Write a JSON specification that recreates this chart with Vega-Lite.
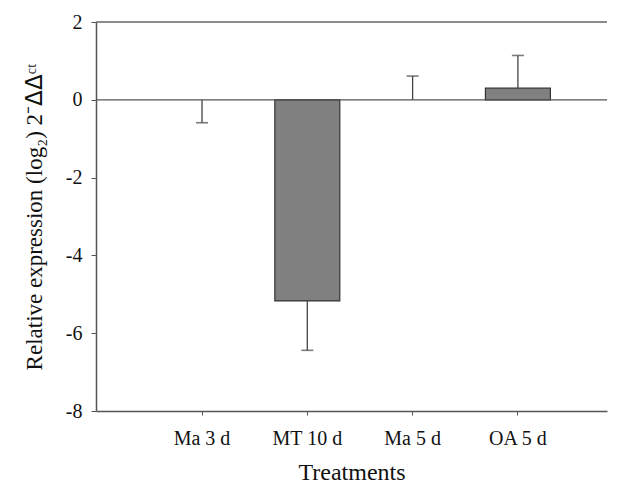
{
  "$schema": "https://vega.github.io/schema/vega-lite/v6.json",
  "autosize": {"type": "none"},
  "width": 511,
  "height": 389,
  "padding": {"left": 96, "top": 22, "right": 20, "bottom": 75},
  "background": "white",
  "config": {
    "view": {"stroke": null},
    "font": "Liberation Serif",
    "axis": {
      "labelFont": "Liberation Serif",
      "titleFont": "Liberation Serif",
      "labelColor": "#111",
      "titleColor": "#111",
      "titleFontWeight": "normal",
      "domainColor": "#555",
      "tickColor": "#555",
      "grid": false
    }
  },
  "datasets": {
    "expr": [
      {"treatment": "Ma 3 d", "mean": 0, "err": -0.59},
      {"treatment": "MT 10 d", "mean": -5.17, "err": -6.44},
      {"treatment": "Ma 5 d", "mean": 0, "err": 0.61},
      {"treatment": "OA 5 d", "mean": 0.30, "err": 1.14}
    ]
  },
  "layer": [
    {
      "data": {"name": "expr"},
      "mark": {"type": "tick", "opacity": 0, "size": 1},
      "encoding": {
        "x": {
          "field": "treatment",
          "type": "nominal",
          "sort": null,
          "scale": {"paddingInner": 0.383, "paddingOuter": 0.618, "align": 0.565},
          "axis": {
            "title": "Treatments",
            "labelAngle": 0,
            "labelFontSize": 20,
            "titleFontSize": 24,
            "tickSize": 4,
            "labelPadding": 13,
            "titlePadding": 12,
            "domainWidth": 1.5
          }
        },
        "y": {
          "field": "mean",
          "type": "quantitative",
          "scale": {"domain": [-8, 2], "nice": false, "zero": false},
          "axis": {
            "title": "Relative expression (log₂) 2⁻ᐃᐃᶜᵗ",
            "values": [2, 0, -2, -4, -6, -8],
            "labelExpr": "'' + datum.value",
            "labelFontSize": 20,
            "titleFontSize": 23,
            "tickSize": 5,
            "labelPadding": 9,
            "titlePadding": 19,
            "domainWidth": 1.5
          }
        }
      }
    },
    {
      "data": {"name": "expr"},
      "transform": [{"filter": "datum.mean != 0"}],
      "mark": {"type": "bar", "fill": "#808080", "stroke": "#333", "strokeWidth": 1.2},
      "encoding": {
        "x": {"field": "treatment", "type": "nominal", "sort": null},
        "y": {"field": "mean", "type": "quantitative"}
      }
    },
    {
      "data": {"name": "expr"},
      "mark": {"type": "rule", "color": "#444", "strokeWidth": 1.3},
      "encoding": {
        "x": {"field": "treatment", "type": "nominal", "sort": null},
        "y": {"field": "mean", "type": "quantitative"},
        "y2": {"field": "err"}
      }
    },
    {
      "data": {"name": "expr"},
      "mark": {"type": "tick", "color": "#444", "thickness": 1.6, "size": 12},
      "encoding": {
        "x": {"field": "treatment", "type": "nominal", "sort": null},
        "y": {"field": "err", "type": "quantitative"}
      }
    },
    {
      "data": {"values": [{"level": 0}]},
      "mark": {"type": "rule", "color": "#555", "strokeWidth": 1.2},
      "encoding": {"y": {"field": "level", "type": "quantitative"}}
    },
    {
      "data": {"values": [{"level": 2}]},
      "mark": {"type": "rule", "color": "#666", "strokeWidth": 1.5},
      "encoding": {"y": {"field": "level", "type": "quantitative"}}
    }
  ]
}
